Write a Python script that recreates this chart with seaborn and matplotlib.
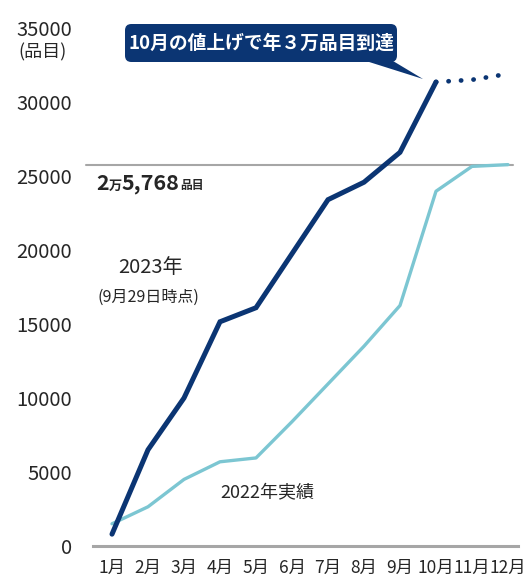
import numpy as np
import pandas as pd
import matplotlib
matplotlib.use("Agg")
import matplotlib.pyplot as plt
from matplotlib.patches import FancyBboxPatch, Polygon
import seaborn as sns

# ---- data ----
months = ["1月", "2月", "3月", "4月", "5月", "6月", "7月", "8月", "9月", "10月", "11月", "12月"]
values_2023 = [800, 6500, 10000, 15150, 16100, 19750, 23400, 24580, 26600, 31350]
forecast_months = ["10月", "11月", "12月"]
forecast_2023 = [31350, 31500, 31900]
values_2022 = [1500, 2650, 4500, 5690, 5950, 8400, 10950, 13500, 16250, 23970, 25650, 25768]
yticks = [0, 5000, 10000, 15000, 20000, 25000, 30000, 35000]
ref_value = 25768

NAVY = "#0b3573"
LIGHT = "#7cc6d2"
GRAY = "#a6a6a6"
TXT = "#262626"

sns.set_theme(style="white")
plt.rcParams['font.family'] = ['Noto Sans CJK JP', 'DejaVu Sans']

W, H = 531, 579
fig = plt.figure(figsize=(W / 100, H / 100), dpi=100)
ax = fig.add_axes([93 / W, 1 - 546 / H, (518 - 93) / W, (546 - 28) / H])

df23 = pd.DataFrame({"x": [months.index(m) for m in months[:len(values_2023)]], "y": values_2023})
dff = pd.DataFrame({"x": [months.index(m) for m in forecast_months], "y": forecast_2023})
df22 = pd.DataFrame({"x": list(range(len(months))), "y": values_2022})

ax.axhline(ref_value, xmin=-7 / 425, xmax=(513 - 93) / 425, color=GRAY, lw=1.5, zorder=1, clip_on=False)
sns.lineplot(data=df22, x="x", y="y", ax=ax, color=LIGHT, lw=2.4, zorder=3)
sns.lineplot(data=df23, x="x", y="y", ax=ax, color=NAVY, lw=3.6, zorder=4,
             solid_capstyle="round", solid_joinstyle="miter")
sns.lineplot(data=dff, x="x", y="y", ax=ax, color=NAVY, lw=3.4, zorder=4,
             linestyle=(0, (0.05, 2.6)), dash_capstyle="round")

ax.set_xlim(-19 / 36, 11 + 10 / 36)
ax.set_ylim(0, 35000)
ax.set_xticks(range(len(months)))
ax.set_xticklabels(months, fontsize=12.5, color=TXT)
ax.set_yticks(yticks)
ax.set_yticklabels([str(v) for v in yticks], fontsize=14.5, color=TXT)
ax.tick_params(axis="x", length=0, pad=9)
ax.tick_params(axis="y", length=0, pad=15)
ax.set_xlabel("")
ax.set_ylabel("")
for s in ["top", "right", "left"]:
    ax.spines[s].set_visible(False)
ax.spines["bottom"].set_color(GRAY)
ax.spines["bottom"].set_linewidth(2.2)
ax.grid(False)

def fx(x):
    return x / W

def fy(y):
    return 1 - y / H

fig.text(fx(43), fy(52), "(品目)", fontsize=13, color=TXT, ha="center", va="center")

# annotation bubble
box = FancyBboxPatch((fx(125), fy(62)), fx(397) - fx(125), fy(24) - fy(62),
                     boxstyle="round,pad=0,rounding_size=0.012", transform=fig.transFigure,
                     facecolor=NAVY, edgecolor="none", mutation_aspect=W / H, zorder=5)
fig.patches.append(box)
tail = Polygon([(fx(366), fy(61)), (fx(393), fy(61)), (fx(423), fy(79))], closed=True,
               transform=fig.transFigure, facecolor=NAVY, edgecolor="none", zorder=5)
fig.patches.append(tail)
fig.text(fx(261), fy(43), "10月の値上げで年３万品目到達", fontsize=13.5, color="white",
         fontweight="bold", ha="center", va="center", zorder=10)

# reference label
t = fig.text(fx(96), fy(183), "2", fontsize=15.5, fontweight="bold", color=TXT, va="center")
pieces = [("万", 9.5), ("5,768", 15.5), ("品目", 8.5)]
fig.canvas.draw()
r = fig.canvas.get_renderer()
x0 = t.get_window_extent(r).x1
for s, fs in pieces:
    tt = fig.text(x0 / W, fy(183) if fs > 10 else fy(186), s, fontsize=fs, fontweight="bold",
                  color=TXT, va="center")
    x0 = tt.get_window_extent(r).x1

fig.text(fx(151), fy(268), "2023年", fontsize=14.5, color=TXT, ha="center", va="center")
fig.text(fx(148), fy(297), "(9月29日時点)", fontsize=11.5, color=TXT, ha="center", va="center")
fig.text(fx(267), fy(493), "2022年実績", fontsize=13, color=TXT, ha="center", va="center")

fig.savefig("out.png", dpi=100, facecolor="white")
